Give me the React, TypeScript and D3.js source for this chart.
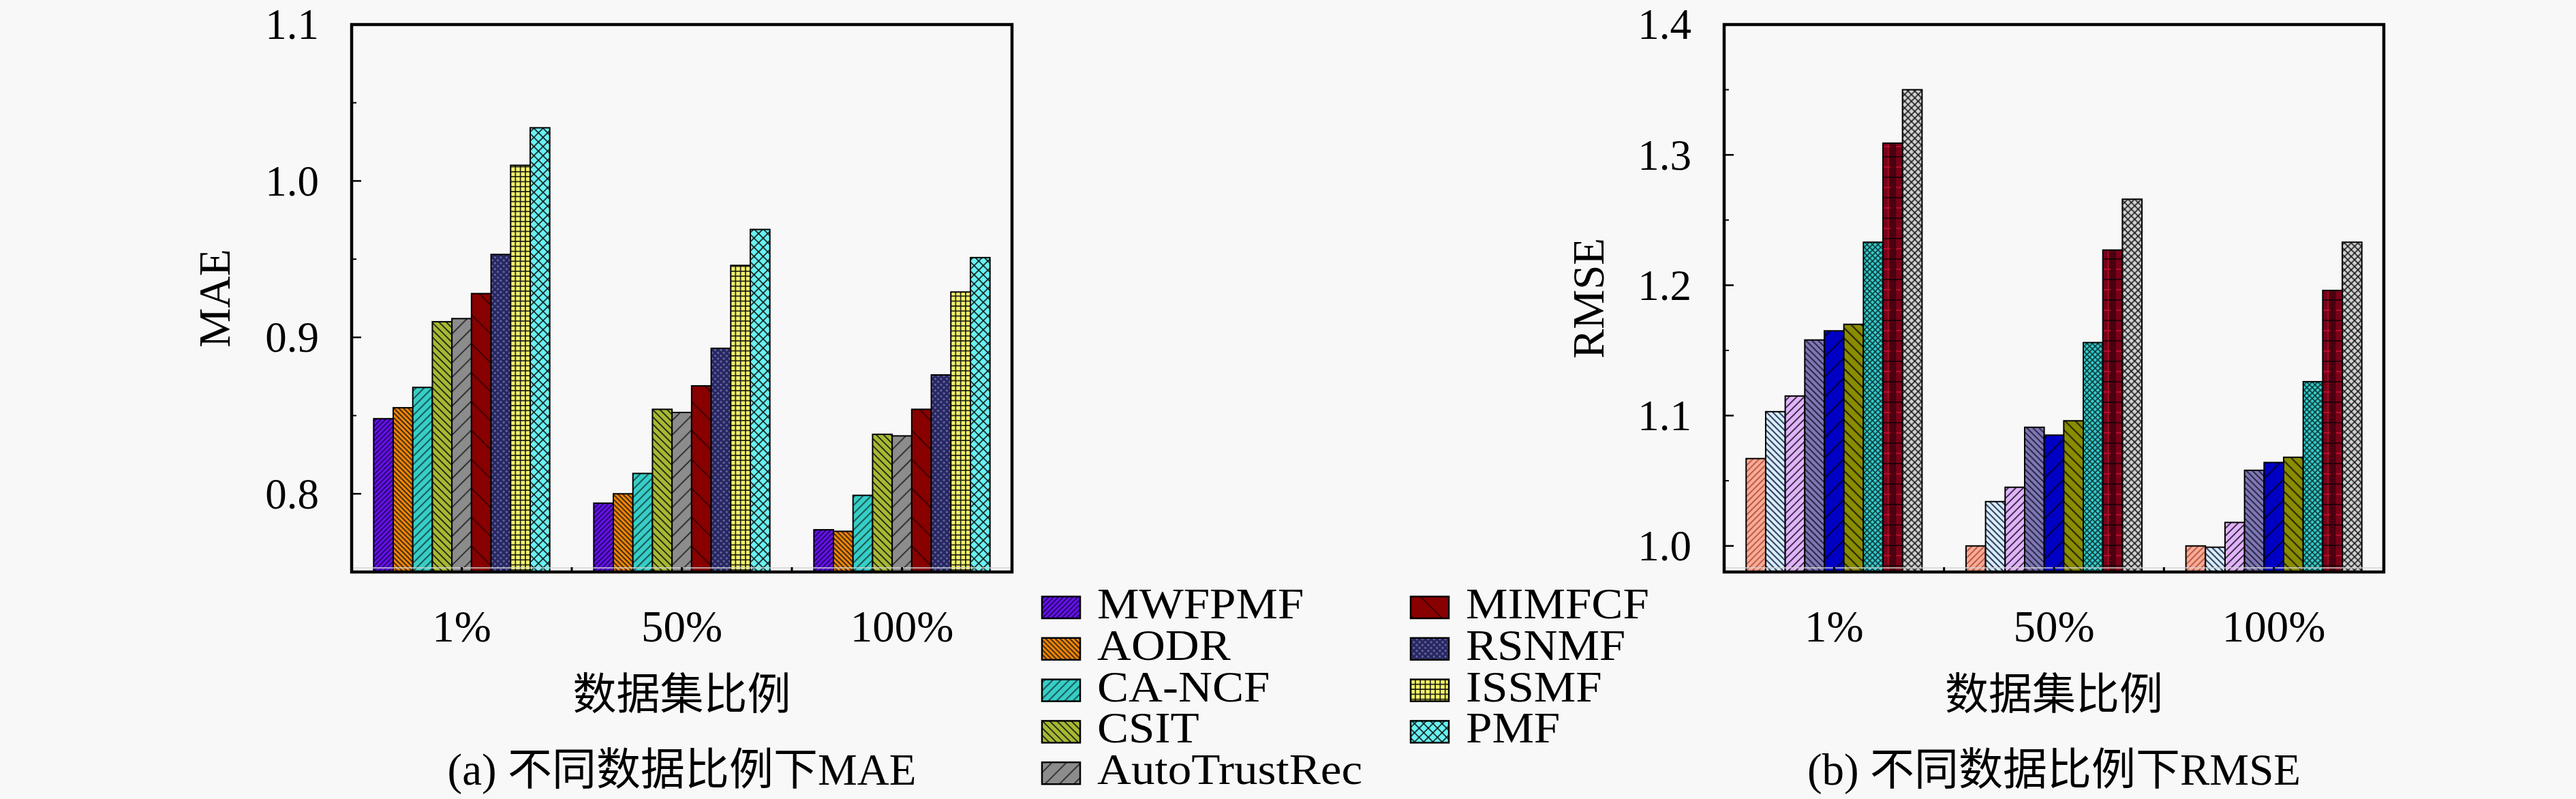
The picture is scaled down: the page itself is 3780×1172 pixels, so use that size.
import React from 'react';
import * as d3 from 'd3';

// ---------------- data ----------------
const categories = ['1%', '50%', '100%'];
const seriesNames = ['MWFPMF', 'AODR', 'CA-NCF', 'CSIT', 'AutoTrustRec', 'MIMFCF', 'RSNMF', 'ISSMF', 'PMF'];

// MAE values per dataset ratio (series order as seriesNames)
const mae1 = [0.848, 0.855, 0.868, 0.910, 0.912, 0.928, 0.953, 1.010, 1.034];
const mae50 = [0.794, 0.800, 0.813, 0.854, 0.852, 0.869, 0.893, 0.946, 0.969];
const mae100 = [0.777, 0.776, 0.799, 0.838, 0.837, 0.854, 0.876, 0.929, 0.951];

// RMSE values per dataset ratio
const rmse1 = [1.067, 1.103, 1.115, 1.158, 1.165, 1.170, 1.233, 1.309, 1.350];
const rmse50 = [1.000, 1.034, 1.045, 1.091, 1.085, 1.096, 1.156, 1.227, 1.266];
const rmse100 = [1.000, 0.999, 1.018, 1.058, 1.064, 1.068, 1.126, 1.196, 1.233];

const maeTicks = [0.8, 0.9, 1.0, 1.1];
const maeMinorTicks = [0.85, 0.95, 1.05];
const rmseTicks = [1.0, 1.1, 1.2, 1.3, 1.4];
const rmseMinorTicks = [1.05, 1.15, 1.25, 1.35];

// ---------------- styles ----------------
type Pat = { id: string; bg: string; kind: string; color: string; s: number; w: number };

const leftPatterns: Pat[] = [
  { id: 'pL0', bg: '#6a12f2', kind: 'fwd', color: '#1c0454', s: 5, w: 1.8 },
  { id: 'pL1', bg: '#ff8a00', kind: 'back', color: '#1a1a1a', s: 5, w: 1.8 },
  { id: 'pL2', bg: '#36cec6', kind: 'fwd', color: '#123434', s: 8.5, w: 1.6 },
  { id: 'pL3', bg: '#a6b832', kind: 'back', color: '#1a1a10', s: 7.5, w: 1.7 },
  { id: 'pL4', bg: '#8c8c8c', kind: 'fwd', color: '#141414', s: 15, w: 1.5 },
  { id: 'pL5', bg: '#880000', kind: 'back', color: '#2a0000', s: 30, w: 1.5 },
  { id: 'pL6', bg: '#262660', kind: 'dots', color: '#6e6eaa', s: 6, w: 1.6 },
  { id: 'pL7', bg: '#f4f46a', kind: 'grid', color: '#121212', s: 7.3, w: 1.6 },
  { id: 'pL8', bg: '#68f2f2', kind: 'cross', color: '#121212', s: 9.5, w: 1.6 },
];

const rightPatterns: Pat[] = [
  { id: 'pR0', bg: '#ffaa94', kind: 'fwd', color: '#a04a3a', s: 6.4, w: 1.6 },
  { id: 'pR1', bg: '#d6f0ff', kind: 'back', color: '#101030', s: 6.4, w: 1.7 },
  { id: 'pR2', bg: '#e2b2fc', kind: 'fwd', color: '#1e1e2a', s: 7.8, w: 1.7 },
  { id: 'pR3', bg: '#8078b4', kind: 'back', color: '#151530', s: 6.4, w: 1.7 },
  { id: 'pR4', bg: '#0000c4', kind: 'fwd', color: '#000028', s: 21, w: 1.8 },
  { id: 'pR5', bg: '#8a8c00', kind: 'back', color: '#141400', s: 10.6, w: 1.8 },
  { id: 'pR6', bg: '#36cccc', kind: 'cross', color: '#0a3434', s: 5.7, w: 1.6 },
  { id: 'pR7', bg: '#4a0010', kind: 'plaid', color: '#c8102e', s: 10, w: 1.6 },
  { id: 'pR8', bg: '#d4d4d4', kind: 'cross', color: '#111111', s: 7, w: 1.6 },
];

const latin = "'Liberation Serif', 'DejaVu Serif', serif";
const mixed = "'Liberation Serif', 'Noto Sans CJK SC', serif";
const cjk = "'Noto Sans CJK SC', sans-serif";

function PatternDef({ p }: { p: Pat }) {
  const s = p.s;
  if (p.kind === 'fwd' || p.kind === 'back') {
    return (
      <pattern id={p.id} patternUnits="userSpaceOnUse" width={s} height={s}
        patternTransform={`rotate(${p.kind === 'fwd' ? 45 : -45})`}>
        <rect width={s} height={s} fill={p.bg} />
        <line x1={s / 2} y1={0} x2={s / 2} y2={s} stroke={p.color} strokeWidth={p.w} />
      </pattern>
    );
  }
  if (p.kind === 'cross') {
    return (
      <pattern id={p.id} patternUnits="userSpaceOnUse" width={s} height={s} patternTransform="rotate(45)">
        <rect width={s} height={s} fill={p.bg} />
        <line x1={s / 2} y1={0} x2={s / 2} y2={s} stroke={p.color} strokeWidth={p.w} />
        <line x1={0} y1={s / 2} x2={s} y2={s / 2} stroke={p.color} strokeWidth={p.w} />
      </pattern>
    );
  }
  if (p.kind === 'grid') {
    return (
      <pattern id={p.id} patternUnits="userSpaceOnUse" width={s} height={s}>
        <rect width={s} height={s} fill={p.bg} />
        <line x1={s / 2} y1={0} x2={s / 2} y2={s} stroke={p.color} strokeWidth={p.w} />
        <line x1={0} y1={s / 2} x2={s} y2={s / 2} stroke={p.color} strokeWidth={p.w} />
      </pattern>
    );
  }
  if (p.kind === 'dots') {
    return (
      <pattern id={p.id} patternUnits="userSpaceOnUse" width={s} height={s} patternTransform="rotate(45)">
        <rect width={s} height={s} fill={p.bg} />
        <circle cx={s / 2} cy={s / 2} r={p.w} fill={p.color} />
      </pattern>
    );
  }
  // plaid: dark maroon with thin red vertical stripes and sparse horizontal dashes
  return (
    <pattern id={p.id} patternUnits="userSpaceOnUse" width={s * 2} height={s * 3}>
      <rect width={s * 2} height={s * 3} fill={p.bg} />
      <rect x={0} y={0} width={s * 0.7} height={s * 3} fill="#7a0018" />
      <line x1={s * 0.85} y1={0} x2={s * 0.85} y2={s * 3} stroke={p.color} strokeWidth={p.w} />
      <line x1={0} y1={s * 0.5} x2={s * 1.2} y2={s * 0.5} stroke={p.color} strokeWidth={p.w} />
      <line x1={0} y1={s * 2} x2={s * 2} y2={s * 2} stroke="#14000a" strokeWidth={p.w} />
    </pattern>
  );
}

type PanelProps = {
  x0: number; x1: number; y0: number; y1: number;
  domain: [number, number];
  data: number[][];
  patterns: Pat[];
  ticks: number[];
  minor: number[];
  yLabel: string;
  yLabelX: number;
  caption: string;
};

function Panel(props: PanelProps) {
  const { x0, x1, y0, y1, domain, data, patterns, ticks, minor, yLabel, yLabelX, caption } = props;
  const xs = d3.scaleBand<string>().domain(categories).range([x0, x1]).paddingInner(0.2).paddingOuter(0.1);
  const xi = d3.scaleBand<string>().domain(seriesNames).range([0, xs.bandwidth()]).padding(0);
  const y = d3.scaleLinear().domain(domain).range([y1, y0]);
  const cx = (x0 + x1) / 2;
  const cy = (y0 + y1) / 2;
  const step = xs.step();
  const bounds = categories.slice(1).map((c) => (xs(c) as number) - (step - xs.bandwidth()) / 2);

  return (
    <g>
      {/* bars */}
      {categories.map((c, ci) => (
        <g key={c} transform={`translate(${xs(c)},0)`}>
          {seriesNames.map((s, si) => {
            const v = data[ci][si];
            const yy = y(v);
            return (
              <rect key={s} x={xi(s)} y={yy} width={xi.bandwidth()} height={y1 - yy}
                fill={`url(#${patterns[si].id})`} stroke="#000" strokeWidth={2} />
            );
          })}
        </g>
      ))}
      {/* baseline light line */}
      <line x1={x0} x2={x1} y1={y1 - 6} y2={y1 - 6} stroke="#d4d4d4" strokeWidth={1.5} />
      {/* y ticks */}
      {ticks.map((t) => (
        <g key={t}>
          <line x1={x0} x2={x0 + 14} y1={y(t)} y2={y(t)} stroke="#000" strokeWidth={2.5} />
          <text x={x0 - 48} y={y(t)} dy="0.34em" textAnchor="end" fontFamily={latin} fontSize={63}>
            {d3.format('.1f')(t)}
          </text>
        </g>
      ))}
      {minor.map((t) => (
        <line key={t} x1={x0} x2={x0 + 7} y1={y(t)} y2={y(t)} stroke="#000" strokeWidth={2} />
      ))}
      {/* x ticks */}
      {categories.map((c) => {
        const m = (xs(c) as number) + xs.bandwidth() / 2;
        return <line key={c} x1={m} x2={m} y1={y1} y2={y1 - 7} stroke="#000" strokeWidth={3} />;
      })}
      {bounds.map((b, i) => (
        <line key={i} x1={b} x2={b} y1={y1} y2={y1 - 7} stroke="#000" strokeWidth={3} />
      ))}
      {/* frame */}
      <rect x={x0} y={y0} width={x1 - x0} height={y1 - y0} fill="none" stroke="#000" strokeWidth={4.5} />
      {/* x tick labels */}
      {categories.map((c) => (
        <text key={c} x={(xs(c) as number) + xs.bandwidth() / 2} y={941} textAnchor="middle"
          fontFamily={latin} fontSize={65}>{c}</text>
      ))}
      {/* axis titles */}
      <text transform={`translate(${yLabelX},${cy}) rotate(-90)`} textAnchor="middle"
        fontFamily={latin} fontSize={65}>{yLabel}</text>
      <text x={cx} y={1040} textAnchor="middle" fontFamily={cjk} fontSize={64}>数据集比例</text>
      <text x={cx} y={1151} textAnchor="middle" fontFamily={mixed} fontSize={65}>{caption}</text>
    </g>
  );
}

function Legend() {
  const rowsPerCol = 5;
  const colSwatchX = [1529, 2070];
  const colTextX = [1610, 2151];
  const baseline0 = 907;
  const rowStep = 60.8;
  return (
    <g>
      {seriesNames.map((s, i) => {
        const col = Math.floor(i / rowsPerCol);
        const row = i % rowsPerCol;
        const by = baseline0 + row * rowStep;
        return (
          <g key={s}>
            <rect x={colSwatchX[col]} y={by - 32} width={56} height={32}
              fill={`url(#${leftPatterns[i].id})`} stroke="#000" strokeWidth={2.5} />
            <text x={colTextX[col]} y={by} fontFamily={latin} fontSize={64}
              transform={`translate(${colTextX[col]},0) scale(1.08,1) translate(${-colTextX[col]},0)`}>{s}</text>
          </g>
        );
      })}
    </g>
  );
}

export default function App() {
  const W = 3780;
  const H = 1172;
  return (
    <svg width={W} height={H} viewBox={`0 0 ${W} ${H}`}
      style={{ position: 'absolute', left: 0, top: 0, display: 'block', background: '#f8f8f8' }}>
      <defs>
        {leftPatterns.map((p) => <PatternDef key={p.id} p={p} />)}
        {rightPatterns.map((p) => <PatternDef key={p.id} p={p} />)}
      </defs>
      <rect width={W} height={H} fill="#f8f8f8" />
      <Panel x0={516} x1={1485} y0={36} y1={839} domain={[0.75, 1.1]}
        data={[mae1, mae50, mae100]} patterns={leftPatterns}
        ticks={maeTicks} minor={maeMinorTicks} yLabel="MAE" yLabelX={337}
        caption="(a) 不同数据比例下MAE" />
      <Panel x0={2530} x1={3498} y0={36} y1={839} domain={[0.98, 1.4]}
        data={[rmse1, rmse50, rmse100]} patterns={rightPatterns}
        ticks={rmseTicks} minor={rmseMinorTicks} yLabel="RMSE" yLabelX={2353}
        caption="(b) 不同数据比例下RMSE" />
      <Legend />
    </svg>
  );
}
